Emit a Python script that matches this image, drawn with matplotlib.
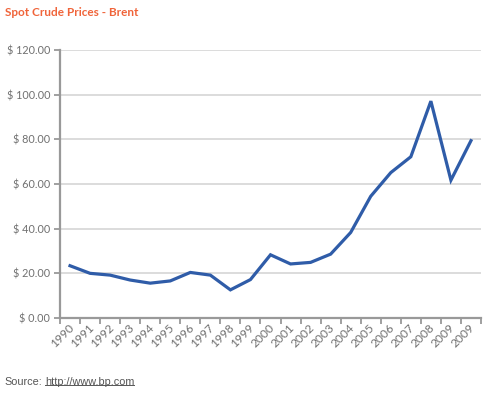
import matplotlib
matplotlib.use("Agg")
import matplotlib.pyplot as plt
from matplotlib.lines import Line2D
import matplotlib.transforms as mtrans
import numpy as np

years = ["1990", "1991", "1992", "1993", "1994", "1995", "1996", "1997", "1998", "1999",
         "2000", "2001", "2002", "2003", "2004", "2005", "2006", "2007", "2008", "2009", "2009"]
prices = [23.4, 20.0, 19.2, 17.0, 15.6, 16.6, 20.4, 19.2, 12.6, 17.2,
          28.3, 24.2, 24.9, 28.6, 38.3, 54.5, 65.1, 72.2, 97.1, 61.7, 79.4]
yticks = [0, 20, 40, 60, 80, 100, 120]

fig = plt.figure(figsize=(4.93, 3.95), dpi=100)
ax = fig.add_axes([60/493, 1-318/395, (481-60)/493, (318-50)/395])

x = np.arange(len(years))
ax.plot(x, prices, color="#2f5ca8", lw=2.3, solid_joinstyle="miter", zorder=3)

ax.set_xlim(-0.5, len(years) - 0.5)
ax.set_ylim(0, 120)
ax.set_yticks(yticks)
ax.set_yticklabels([f"$ {v:.2f}" for v in yticks], fontsize=7.8, color="#707070", family="Lato")
ax.yaxis.grid(True, color="#d9d9d9", lw=1.3)
ax.set_axisbelow(True)

ax.set_xticks(np.arange(-0.5, len(years), 1.0))
ax.set_xticklabels([])
ax.set_xticks(x, minor=True)
ax.set_xticklabels(years, minor=True, rotation=45, ha="right", va="top",
                   fontsize=8.6, color="#707070", family="Lato")
ax.tick_params(axis="x", which="minor", length=0, pad=3)
ax.tick_params(axis="x", which="major", length=4, width=1.3, color="#999999", direction="out")
ax.tick_params(axis="y", length=4, width=1.3, color="#999999", direction="out", pad=3)

offset = mtrans.ScaledTranslation(6/100, 0, fig.dpi_scale_trans)
for lab in ax.get_xticklabels(minor=True):
    lab.set_transform(lab.get_transform() + offset)

for s in ["top", "right"]:
    ax.spines[s].set_visible(False)
for s in ["left", "bottom"]:
    ax.spines[s].set_color("#999999")
    ax.spines[s].set_linewidth(1.6)

fig.text(5/493, 1-12/395, "Spot Crude Prices - Brent", color="#f0643a", fontsize=8.5,
         fontweight="bold", family="Lato", va="center", ha="left")

t1 = fig.text(4/493, 1-382/395, "Source:", color="#555555", fontsize=7.8,
              family="Liberation Sans", va="center", ha="left")
fig.canvas.draw()
r = fig.canvas.get_renderer()
bb = t1.get_window_extent(r)
t2 = fig.text((bb.x1 + 3)/493, 1-382/395, "http://www.bp.com", color="#555555", fontsize=7.8,
              family="Liberation Sans", va="center", ha="left")
fig.canvas.draw()
bb2 = t2.get_window_extent(r)
uy = (bb2.y0 + 2) / 395
fig.add_artist(Line2D([bb2.x0/493, bb2.x1/493], [uy, uy], color="#555555", lw=0.7,
                      transform=fig.transFigure))

fig.savefig("out.png", dpi=100)
